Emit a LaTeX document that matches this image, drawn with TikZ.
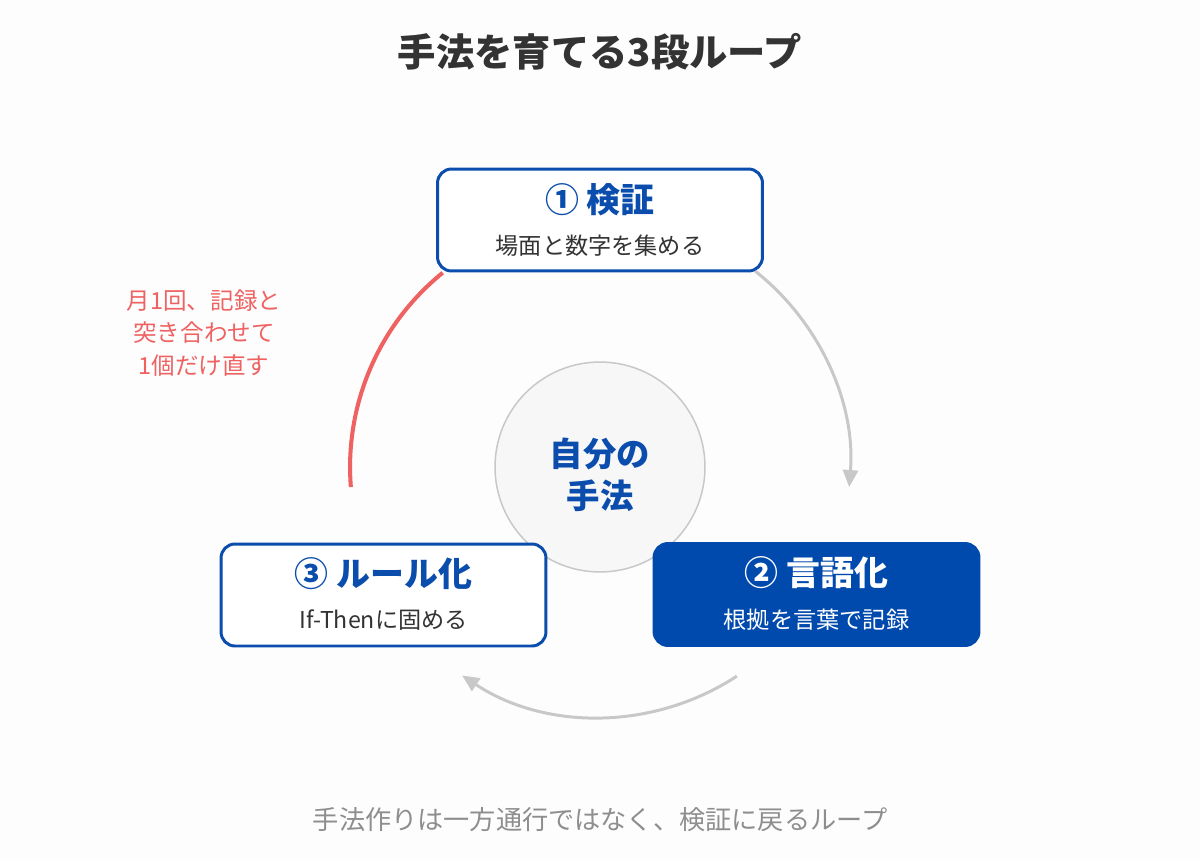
\documentclass[tikz,border=0pt]{standalone}
\usepackage{fontspec}
\setmainfont{Noto Sans CJK JP}
\usetikzlibrary{positioning,arrows.meta}

\definecolor{stageblue}{HTML}{0B4DAD}
\definecolor{stagefill}{HTML}{004AAD}
\definecolor{inktext}{HTML}{333333}
\definecolor{notered}{HTML}{EF6262}
\definecolor{loopgray}{HTML}{C8C8C8}
\definecolor{footgray}{HTML}{8E8E8E}
\definecolor{hubfill}{HTML}{F7F7F7}
\definecolor{pagebg}{HTML}{FDFDFD}

\tikzset{
  stage/.style={draw=stageblue, line width=1.7pt, fill=white, rounded corners=0.28cm,
    minimum width=6.5cm, minimum height=2.04cm, inner sep=0pt},
  stagefilled/.style={stage, fill=stagefill, draw=stagefill},
  stagetitle/.style={font=\fontsize{19.3}{22}\selectfont\bfseries, text=stageblue, inner sep=0pt},
  stagesub/.style={font=\fontsize{13.2}{15}\selectfont, text=inktext, inner sep=0pt},
  hub/.style={circle, draw=loopgray, line width=0.85pt, fill=hubfill, minimum size=4.2cm},
  hubtext/.style={align=center, font=\fontsize{19}{23.8}\selectfont\bfseries, text=stageblue},
  note/.style={align=center, font=\fontsize{13.4}{18.7}\selectfont, text=notered},
  loopedge/.style={draw=loopgray, line width=1.7pt, -{Triangle[length=0.34cm, width=0.3cm]}},
}

\begin{document}
\begin{tikzpicture}[x=0.02cm, y=0.02cm]

    \fill[pagebg] (0,0) rectangle (1200,860);
    \useasboundingbox (0,0) rectangle (1200,860);

    % Define nodes

    \node[font=\fontsize{21.8}{26}\selectfont\bfseries, text=inktext] (title) at (600,808) {手法を育てる3段ループ}; %

    \node[hub]                                      (hub) at (600,393) {}; %
    \node[hubtext] at ([yshift=-0.16cm]hub.center)  (hub_t) {自分の\\手法}; %
    \coordinate                                     (loop) at (600,393); %

    \node[stage]                                    (verify) at (600,640) {}; %
    \node[stagetitle] at ([yshift=0.4cm]verify.center)         (verify_t) {① 検証}; %
    \node[stagesub]   at ([yshift=-0.52cm]verify.center)       (verify_s) {場面と数字を集める}; %

    \node[stagefilled]                              (verbal) at (816.5,265.5) {}; %
    \node[stagetitle, text=white] at ([yshift=0.43cm]verbal.center)  (verbal_t) {② 言語化}; %
    \node[stagesub, text=white]   at ([yshift=-0.51cm]verbal.center) (verbal_s) {根拠を言葉で記録}; %

    \node[stage]                                    (rule) at (383.5,265) {}; %
    \node[stagetitle] at ([yshift=0.43cm]rule.center)          (rule_t) {③ ルール化}; %
    \node[stagesub]   at ([yshift=-0.51cm]rule.center)         (rule_s) {If-Thenに固める}; %

    \node[note]                                     (monthly) at (204,527) {月1回、記録と\\突き合わせて\\1個だけ直す}; %

    \node[font=\fontsize{14.9}{18}\selectfont, text=footgray] (footer) at (600,40) {手法作りは一方通行ではなく、検証に戻るループ}; %

    % Connect the nodes
    \draw[loopedge] (loop) ++(51.6:5cm) arc[start angle=51.6, end angle=-4.6, radius=5cm] ;
    \draw[loopedge] (loop) ++(-56.8:5cm) arc[start angle=-56.8, end angle=-123.5, radius=5cm] ;
    \draw[notered, line width=2.3pt] (loop) ++(129:5cm) arc[start angle=129, end angle=184.6, radius=5cm] ;

\end{tikzpicture}
\end{document}
